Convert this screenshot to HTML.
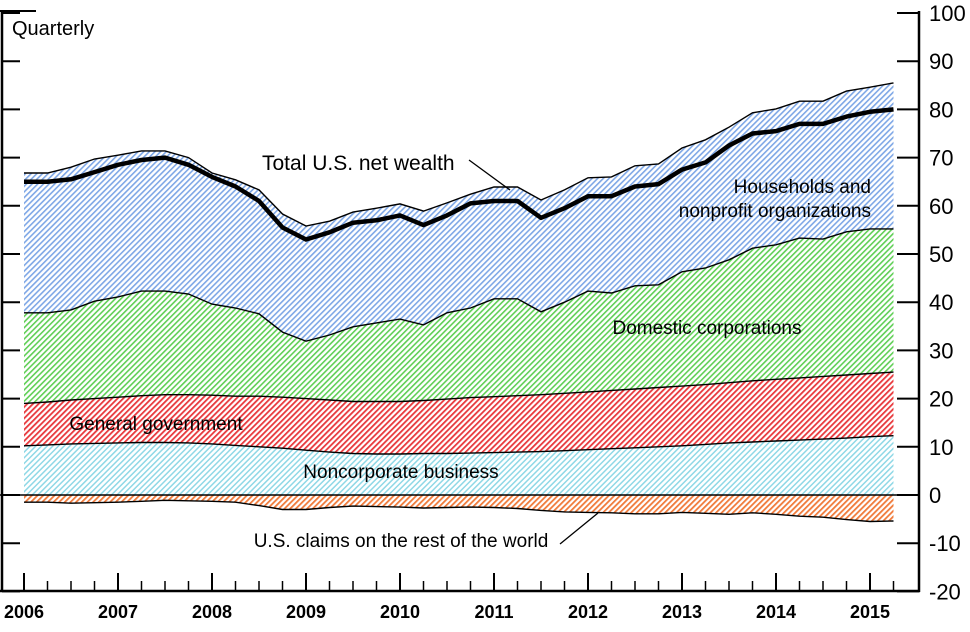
<!DOCTYPE html>
<html><head><meta charset="utf-8"><style>
html,body{margin:0;padding:0;background:#fff;}
svg{display:block;font-family:"Liberation Sans",sans-serif;}
</style></head><body>
<svg id="chart" width="970" height="632" viewBox="0 0 970 632">
<defs>
<pattern id="hBlue" width="4" height="4" patternUnits="userSpaceOnUse" patternTransform="rotate(45)"><rect width="4" height="4" fill="#fff"/><rect width="1.6" height="4" fill="#7ea7e6"/></pattern>
<pattern id="hGreen" width="4" height="4" patternUnits="userSpaceOnUse" patternTransform="rotate(45)"><rect width="4" height="4" fill="#fff"/><rect width="1.6" height="4" fill="#5fcf55"/></pattern>
<pattern id="hRed" width="4" height="4" patternUnits="userSpaceOnUse" patternTransform="rotate(45)"><rect width="4" height="4" fill="#fff"/><rect width="1.8" height="4" fill="#e8383c"/></pattern>
<pattern id="hCyan" width="4" height="4" patternUnits="userSpaceOnUse" patternTransform="rotate(45)"><rect width="4" height="4" fill="#fff"/><rect width="1.5" height="4" fill="#8fd8e6"/></pattern>
<pattern id="hOrange" width="4" height="4" patternUnits="userSpaceOnUse" patternTransform="rotate(45)"><rect width="4" height="4" fill="#fff"/><rect width="1.8" height="4" fill="#f07a3a"/></pattern>
</defs>
<g id="areas"></g>
<g id="lines"></g>
<g id="axes"></g>
<text x="12" y="35" font-size="20">Quarterly</text>
<text x="262" y="170" font-size="21">Total U.S. net wealth</text>
<line x1="469" y1="160" x2="510" y2="190" stroke="#000" stroke-width="1.3"/>
<text x="871" y="193" font-size="19" text-anchor="end">Households and</text>
<text x="871" y="217" font-size="19" text-anchor="end">nonprofit organizations</text>
<text x="707" y="334" font-size="19" text-anchor="middle">Domestic corporations</text>
<text x="156" y="430" font-size="19" text-anchor="middle">General government</text>
<text x="401" y="478" font-size="19" text-anchor="middle">Noncorporate business</text>
<text x="401" y="547" font-size="19" text-anchor="middle">U.S. claims on the rest of the world</text>
<line x1="560" y1="544" x2="598" y2="513" stroke="#000" stroke-width="1.3"/>
</svg>
<script>
const quarters = 38; // 2006Q1 .. 2015Q2
const startYear = 2006;
const claimsBottom = [-1.5,-1.5,-1.7,-1.6,-1.5,-1.3,-1.1,-1.2,-1.3,-1.5,-2.2,-3,-3,-2.6,-2.3,-2.4,-2.5,-2.7,-2.6,-2.5,-2.6,-2.8,-3.2,-3.5,-3.6,-3.7,-3.9,-3.9,-3.6,-3.8,-4,-3.7,-4,-4.4,-4.6,-5.1,-5.5,-5.4];
const noncorpTop = [10.2,10.4,10.6,10.7,10.8,10.9,10.9,10.8,10.6,10.3,10,9.7,9.3,8.9,8.6,8.5,8.5,8.6,8.6,8.7,8.8,8.9,9,9.2,9.4,9.6,9.8,10,10.2,10.5,10.8,11,11.2,11.4,11.6,11.8,12.1,12.3];
const governmentTop = [19,19.3,19.7,20,20.3,20.6,20.8,20.8,20.7,20.5,20.5,20.3,20,19.7,19.4,19.4,19.4,19.6,19.9,20.2,20.4,20.6,20.8,21.1,21.4,21.7,22,22.3,22.6,22.9,23.3,23.7,24,24.3,24.6,24.9,25.2,25.5];
const corporateTop = [37.8,37.8,38.4,40.2,41.1,42.3,42.3,41.7,39.6,38.8,37.6,33.8,31.9,33.2,34.9,35.7,36.5,35.3,37.8,38.8,40.7,40.7,38,40,42.3,41.9,43.4,43.6,46.3,47.1,48.8,51.2,51.9,53.3,53.1,54.6,55.2,55.2];
const householdsTop = [66.8,66.8,68,69.7,70.5,71.4,71.4,70,66.8,65.4,63.3,58.3,55.8,56.8,58.7,59.5,60.4,58.9,60.6,62.4,63.9,63.9,61.2,63.3,65.8,66,68.3,68.7,72,73.7,76.3,79.3,80.1,81.7,81.7,83.8,84.6,85.5];
const totalNetWealth = [65,65,65.5,67,68.5,69.5,70,68.5,66,64,61,55.5,53,54.5,56.5,57,58,56,58,60.5,61,61,57.5,59.5,62,62,64,64.5,67.5,69,72.5,75,75.5,77,77,78.5,79.5,80];
const yTicks = [100,90,80,70,60,50,40,30,20,10,0,-10,-20];
const xYears = [2006,2007,2008,2009,2010,2011,2012,2013,2014,2015];

const NS = "http://www.w3.org/2000/svg";
function xScale(i){ return 24 + i*23.5; }
function xYear(y){ return 24 + (y-startYear)*94; }
function yScale(v){ return 495 - v*4.82; }
function mk(tag, attrs, parent){ const e=document.createElementNS(NS,tag); for(const k in attrs) e.setAttribute(k,attrs[k]); parent.appendChild(e); return e; }
function pts(arr){ return arr.map((v,i)=>xScale(i).toFixed(1)+","+yScale(v).toFixed(1)); }
function band(lo, hi, fill, name){
  const p = pts(hi).concat(pts(lo).reverse());
  const e = mk('polygon',{points:p.join(' '),fill:fill,stroke:'none'},document.getElementById('areas'));
  
  
}
const zeros = householdsTop.map(()=>0);
band(claimsBottom, zeros, 'url(#hOrange)', 'claims-area');
band(zeros, noncorpTop, 'url(#hCyan)', 'noncorporate-area');
band(noncorpTop, governmentTop, 'url(#hRed)', 'government-area');
band(governmentTop, corporateTop, 'url(#hGreen)', 'corporations-area');
band(corporateTop, householdsTop, 'url(#hBlue)', 'households-area');
const L = document.getElementById('lines');
[[claimsBottom,'claims-boundary'],[noncorpTop,'noncorporate-boundary'],[governmentTop,'government-boundary'],[corporateTop,'corporations-boundary'],[householdsTop,'households-boundary']].forEach(([a,n])=>{
  const e = mk('polyline',{points:pts(a).join(' '),fill:'none',stroke:'#000','stroke-width':1.4},L);
  
  
});
const tl = mk('polyline',{points:pts(totalNetWealth).join(' '),fill:'none',stroke:'#000','stroke-width':4.5,'stroke-linejoin':'round'},L);



const A = document.getElementById('axes');
const z = mk('line',{x1:0,y1:yScale(0),x2:919,y2:yScale(0),stroke:'#000','stroke-width':1.5},A);


mk('line',{x1:2,y1:11,x2:2,y2:592,stroke:'#000','stroke-width':2.5},A);
mk('line',{x1:0,y1:11,x2:36,y2:11,stroke:'#000','stroke-width':2},A);
mk('line',{x1:919,y1:11,x2:919,y2:592,stroke:'#000','stroke-width':2.5},A);
mk('line',{x1:0,y1:591,x2:920,y2:591,stroke:'#000','stroke-width':2.5},A);
yTicks.forEach(v=>{
  const y = yScale(v);
  mk('line',{x1:2,y1:y,x2:20,y2:y,stroke:'#000','stroke-width':2},A);
  mk('line',{x1:897,y1:y,x2:919,y2:y,stroke:'#000','stroke-width':2},A);
  const t = mk('text',{x:929,y:y+8,'font-size':22},A);
  t.textContent = v;
  
  
});
for(let i=0;i<quarters;i++){
  const x = xScale(i), major = i%4===0;
  mk('line',{x1:x,y1:591,x2:x,y2:major?573:581,stroke:'#000','stroke-width':major?2:1.5},A);
}
xYears.forEach(yr=>{
  const t = mk('text',{x:xYear(yr),y:618,'font-size':18,'font-weight':'bold','text-anchor':'middle'},A);
  t.textContent = yr;
  
  
});
</script>
</body></html>
